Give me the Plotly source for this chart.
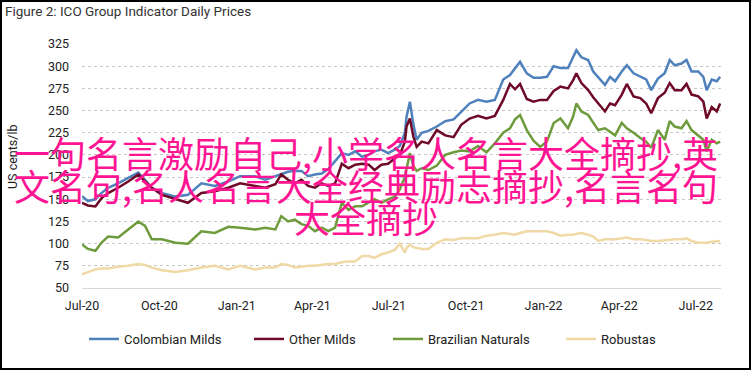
import plotly.graph_objects as go

dates = [
    "2020-07-01", "2020-07-08", "2020-07-17", "2020-07-24", "2020-08-01", "2020-08-13", "2020-08-25",
    "2020-09-06", "2020-09-14", "2020-09-22", "2020-10-04", "2020-10-20", "2020-11-04", "2020-11-20",
    "2020-12-06", "2020-12-22", "2021-01-05", "2021-01-23", "2021-02-04", "2021-02-16", "2021-02-23",
    "2021-03-03", "2021-03-11", "2021-03-19", "2021-03-27", "2021-04-04", "2021-04-12", "2021-04-20",
    "2021-04-28", "2021-05-06", "2021-05-14", "2021-05-22", "2021-05-30", "2021-06-07", "2021-06-14",
    "2021-06-22", "2021-06-30", "2021-07-08", "2021-07-14", "2021-07-20", "2021-07-22", "2021-07-26",
    "2021-07-30", "2021-08-03", "2021-08-09", "2021-08-17", "2021-08-27", "2021-09-06", "2021-09-16",
    "2021-09-25", "2021-10-05", "2021-10-15", "2021-10-25", "2021-11-04", "2021-11-14", "2021-11-22",
    "2021-11-28", "2021-12-04", "2021-12-12", "2021-12-20", "2021-12-28", "2022-01-05", "2022-01-13",
    "2022-01-21", "2022-01-30", "2022-02-05", "2022-02-09", "2022-02-15", "2022-02-23", "2022-03-01",
    "2022-03-07", "2022-03-15", "2022-03-21", "2022-03-27", "2022-04-04", "2022-04-10", "2022-04-18",
    "2022-04-26", "2022-05-03", "2022-05-09", "2022-05-17", "2022-05-25", "2022-05-31", "2022-06-06",
    "2022-06-14", "2022-06-20", "2022-06-26", "2022-07-04", "2022-07-10", "2022-07-14", "2022-07-20",
    "2022-07-26", "2022-07-30",
]

colombian_milds = [
    153.5, 148, 150, 157, 163, 168, 174, 180, 172, 163, 157, 153, 155, 168, 165, 170, 176,
    176, 172, 176, 178, 181, 182, 182, 176, 178, 179, 184, 193, 202, 200, 204, 198, 200, 204,
    206, 202, 206, 210, 225, 243, 260, 235, 217, 225, 227, 232, 238, 240, 249, 258, 262, 260,
    262, 285, 290, 298, 305, 292, 287, 287, 288, 300, 298, 298, 309, 318, 310, 307, 294, 288,
    279, 288, 283, 294, 301, 292, 288, 285, 273, 286, 292, 307, 301, 303, 307, 294, 294, 288,
    273, 285, 283, 288,
]

other_milds = [
    146, 143, 142, 151, 157, 163, 170, 178, 170, 163, 155, 150, 146, 157, 159, 163, 168,
    165, 163, 167, 178, 172, 168, 172, 165, 163, 168, 165, 168, 190, 185, 189, 190, 189, 183,
    189, 190, 196, 200, 215, 232, 241, 221, 209, 215, 213, 228, 222, 220, 234, 241, 244, 241,
    244, 262, 280, 274, 280, 263, 260, 262, 262, 272, 277, 275, 284, 292, 281, 273, 265, 258,
    249, 258, 256, 268, 280, 266, 264, 258, 247, 264, 270, 281, 273, 273, 280, 268, 266, 260,
    241, 254, 249, 258,
]

brazilian_naturals = [
    99, 94, 92, 101, 108, 107, 116, 125, 120, 105, 105, 101, 100, 114, 112, 119, 118,
    116, 118, 116, 131, 125, 127, 122, 120, 114, 118, 114, 118, 146, 138, 142, 142, 146, 150,
    146, 150, 153, 161, 175, 185, 202, 188, 182, 185, 183, 188, 200, 203, 205, 204, 210, 203,
    213, 225, 230, 240, 245, 228, 216, 209, 215, 236, 241, 230, 243, 258, 249, 245, 236, 228,
    230, 226, 222, 236, 230, 225, 219, 215, 208, 228, 217, 238, 232, 230, 238, 228, 222, 217,
    204, 217, 213, 215,
]

robustas = [
    65.5, 68, 71, 72, 72, 74, 75, 77, 76, 73, 70, 68, 70, 73, 75, 71, 75,
    71, 73, 73, 77, 76, 73, 74, 75, 75, 76, 77, 77, 79, 80, 80, 86, 86, 84,
    88, 90, 93, 100, 90, 95, 99, 96, 95, 94, 94, 101, 105, 104, 106, 106, 106, 109,
    110, 112, 111, 110, 112, 114, 114, 114, 114, 112, 109, 110, 110, 111, 112, 110, 108, 103,
    105, 105, 105, 106, 107, 105, 105, 104, 103, 103, 104, 105, 105, 105, 106, 103, 101, 101,
    101, 102, 103, 103,
]

series_names = ["Colombian Milds", "Other Milds", "Brazilian Naturals", "Robustas"]
series_colors = ["#4F81BD", "#6E0A28", "#6E9B3C", "#F0D9A6"]
y_ticks = [50, 75, 100, 125, 150, 175, 200, 225, 250, 275, 300, 325]

title_text = "Figure 2: ICO Group Indicator Daily Prices"
y_title = "US cents/lb"
overlay_lines = [
    "一句名言激励自己,小学名人名言大全摘抄,英",
    "文名句,名人名言大全经典励志摘抄,名言名句",
    "大全摘抄",
]

W, H = 751, 370
L, R, T, B = 82, 30, 44, 82
PW, PH = W - L - R, H - T - B

def px_x(p):
    return (p - L) / PW

def px_y(p):
    return (H - B - p) / PH

FONT = "Roboto, sans-serif"

fig = go.Figure()
all_values = [colombian_milds, other_milds, brazilian_naturals, robustas]
legend_ids = ["legend", "legend2", "legend3", "legend4"]
for name, vals, color, lg in zip(series_names, all_values, series_colors, legend_ids):
    fig.add_trace(go.Scatter(
        x=dates, y=vals, name=name, mode="lines",
        line=dict(color=color, width=2.5),
        legend=lg, showlegend=True,
    ))

legend_left = [84, 249, 388, 561]
legend_font = dict(family=FONT, size=13, color="#222222")
layout_legends = {}
for lg, lx in zip(legend_ids, legend_left):
    layout_legends[lg] = dict(
        x=px_x(lx), y=px_y(339), xanchor="left", yanchor="middle",
        orientation="h", font=legend_font, bgcolor="rgba(0,0,0,0)",
        borderwidth=0, tracegroupgap=0, itemwidth=30, visible=True,
    )

annotations = [
    dict(text=y_title, x=px_x(12), y=px_y(157), xref="paper", yref="paper",
         textangle=-90, showarrow=False, font=dict(family=FONT, size=12.5, color="#222222"),
         xanchor="center", yanchor="middle"),
]
line_y = [152, 185, 217]
for txt, ly in zip(overlay_lines, line_y):
    annotations.append(dict(
        text=txt, x=px_x(366), y=px_y(ly), xref="paper", yref="paper",
        showarrow=False, xanchor="center", yanchor="middle",
        font=dict(family="Noto Sans CJK SC", size=36, color="#FF1493"),
    ))

shapes = [
    dict(type="rect", xref="paper", yref="paper",
         x0=px_x(1), x1=px_x(W - 1), y0=px_y(H - 1), y1=px_y(1),
         line=dict(color="#000000", width=2), fillcolor="rgba(0,0,0,0)", layer="above"),
]

fig.update_layout(
    width=W, height=H, showlegend=True,
    margin=dict(l=L, r=R, t=T, b=B, autoexpand=False),
    paper_bgcolor="#FFFFFF", plot_bgcolor="#FFFFFF",
    title=dict(text=title_text, x=5 / W, y=1 - 11 / H, xref="container", yref="container",
               xanchor="left", yanchor="middle",
               font=dict(family=FONT, size=13.5, color="#333333")),
    xaxis=dict(
        type="date", range=["2020-07-01", "2022-07-31"],
        tick0="2020-07-01", dtick="M3", tickformat="%b-%y",
        showgrid=False, zeroline=False, showline=True, linecolor="#D9D9D9", linewidth=1,
        ticks="", ticklabelstandoff=6,
        tickfont=dict(family=FONT, size=12.5, color="#222222"),
    ),
    yaxis=dict(
        range=[50, 325], tickvals=y_ticks, ticktext=[str(v) for v in y_ticks],
        showgrid=True, gridcolor="#C8C8C8", griddash="dot", gridwidth=1,
        zeroline=False, showline=False, ticks="", ticklabelstandoff=12,
        tickfont=dict(family=FONT, size=12.5, color="#222222"),
    ),
    annotations=annotations,
    shapes=shapes,
    **layout_legends,
)

fig.write_html(
    "out.html",
    config={"displayModeBar": False},
    post_script="document.body.style.margin='0';document.body.style.padding='0';",
)
